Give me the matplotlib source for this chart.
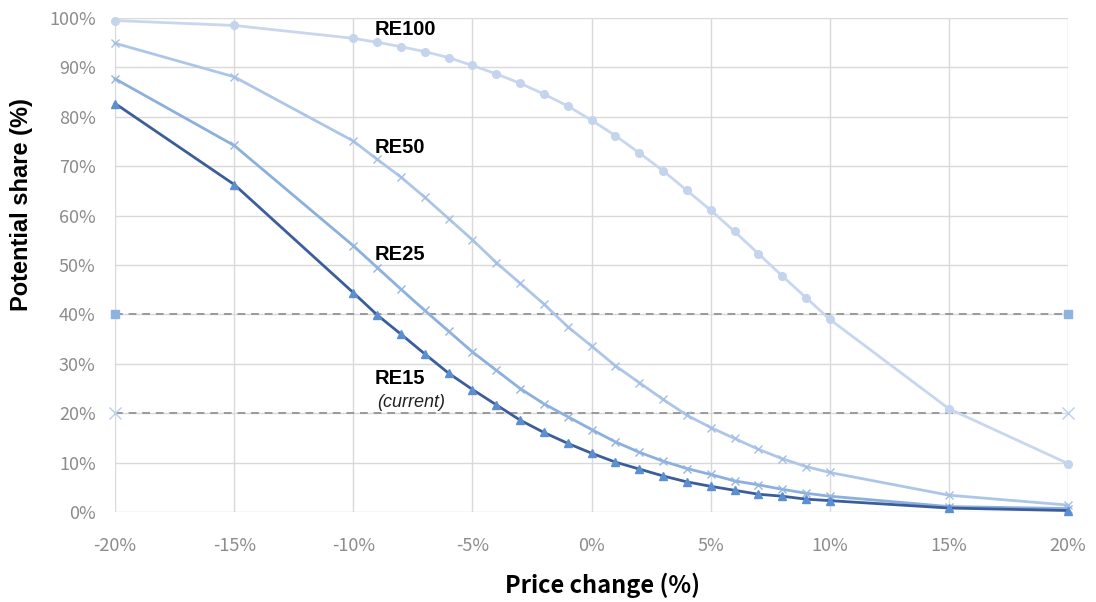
import matplotlib.pyplot as plt
from matplotlib.ticker import FuncFormatter

plt.rcParams['font.family'] = ['Noto Sans CJK JP', 'DejaVu Sans']

price_change = [-20, -15, -10, -9, -8, -7, -6, -5, -4, -3, -2, -1, 0,
                1, 2, 3, 4, 5, 6, 7, 8, 9, 10, 15, 20]

re100 = [99.5, 98.5, 95.9, 95.1, 94.2, 93.2, 92.0, 90.4, 88.7, 86.8, 84.6, 82.2, 79.3,
         76.2, 72.7, 69.1, 65.1, 61.1, 56.8, 52.3, 47.8, 43.4, 39.0, 20.9, 9.8]
re50 = [94.9, 88.1, 75.1, 71.4, 67.8, 63.7, 59.4, 55.1, 50.5, 46.3, 42.1, 37.5, 33.6,
        29.6, 26.2, 22.8, 19.6, 17.1, 14.9, 12.7, 10.8, 9.2, 8.0, 3.4, 1.4]
re25 = [87.7, 74.2, 53.9, 49.5, 45.1, 40.8, 36.6, 32.4, 28.7, 25.0, 21.9, 19.3, 16.7,
        14.2, 12.1, 10.3, 8.8, 7.6, 6.3, 5.5, 4.6, 3.8, 3.2, 1.1, 0.7]
re15 = [82.7, 66.3, 44.4, 39.9, 36.0, 32.0, 28.1, 24.8, 21.7, 18.6, 16.1, 13.9, 11.9,
        10.1, 8.7, 7.3, 6.1, 5.2, 4.4, 3.6, 3.2, 2.6, 2.3, 0.8, 0.3]

ref_x = [-20, 20]
ref_40 = [40, 40]
ref_20 = [20, 20]

fig = plt.figure(figsize=(10.96, 6.02), dpi=100)
axis = fig.add_axes([0.105, 0.1495, 0.8695, 0.8205])

grid_c = "#d9d9d9"
axis.set_xlim(-20, 20)
axis.set_ylim(0, 100)
axis.set_xticks(range(-20, 21, 5))
axis.set_yticks(range(0, 101, 10))
axis.grid(True, color=grid_c, lw=1.0)
axis.set_axisbelow(True)
for s in axis.spines.values():
    s.set_visible(False)

axis.xaxis.set_major_formatter(FuncFormatter(lambda v, _: f"{v:.0f}%"))
axis.yaxis.set_major_formatter(FuncFormatter(lambda v, _: f"{v:.0f}%"))
axis.tick_params(length=0, colors="#8c8c8c", labelsize=13)
axis.tick_params(axis="x", pad=18)
axis.tick_params(axis="y", pad=14)

# reference lines
axis.plot(ref_x, ref_40, ls=(0, (4, 3)), c="#9a9a9a", lw=1.4,
          marker="s", ms=6, mfc="#8fb3e0", mec="#8fb3e0", clip_on=False, zorder=2)
axis.plot(ref_x, ref_20, ls=(0, (4, 3)), c="#9a9a9a", lw=1.4,
          marker="x", ms=8, mew=1, mec="#b9cfec", clip_on=False, zorder=2)

axis.plot(price_change, re100, c="#c8d7ee", lw=2, marker="o", ms=5.5,
          mfc="#c3d4ec", mec="#c3d4ec", clip_on=False, zorder=3)
axis.plot(price_change, re50, c="#adc6e8", lw=2, marker="x", ms=6, mew=1,
          mec="#a3bfe6", clip_on=False, zorder=3)
axis.plot(price_change, re25, c="#8cb0de", lw=2, marker="x", ms=6, mew=1,
          mec="#93b5e0", clip_on=False, zorder=4)
axis.plot(price_change, re15, c="#3b5d9c", lw=2, marker="^", ms=6,
          mfc="#5b8fd0", mec="#5b8fd0", clip_on=False, zorder=5)

label_font = dict(family=["Liberation Sans", "DejaVu Sans"], fontsize=14.5, fontweight="bold")
axis.text(-9.1, 97.7, "RE100", va="center", **label_font)
axis.text(-9.1, 73.7, "RE50", va="center", **label_font)
axis.text(-9.1, 52.1, "RE25", va="center", **label_font)
axis.text(-9.1, 27.0, "RE15", va="center", **label_font)
axis.text(-9.0, 22.2, "(current)", va="center", fontsize=13, style="italic",
          color="#222222", family=["Liberation Sans", "DejaVu Sans"])

axis.set_xlabel("Price change (%)", fontsize=17, fontweight="bold", va="center")
axis.xaxis.set_label_coords(0.511, -0.148)
axis.set_ylabel("Potential share (%)", fontsize=17, fontweight="bold",
                family=["Liberation Sans", "DejaVu Sans"])
axis.yaxis.set_label_coords(-0.086, 0.623)

fig.savefig("out.png", dpi=100)
